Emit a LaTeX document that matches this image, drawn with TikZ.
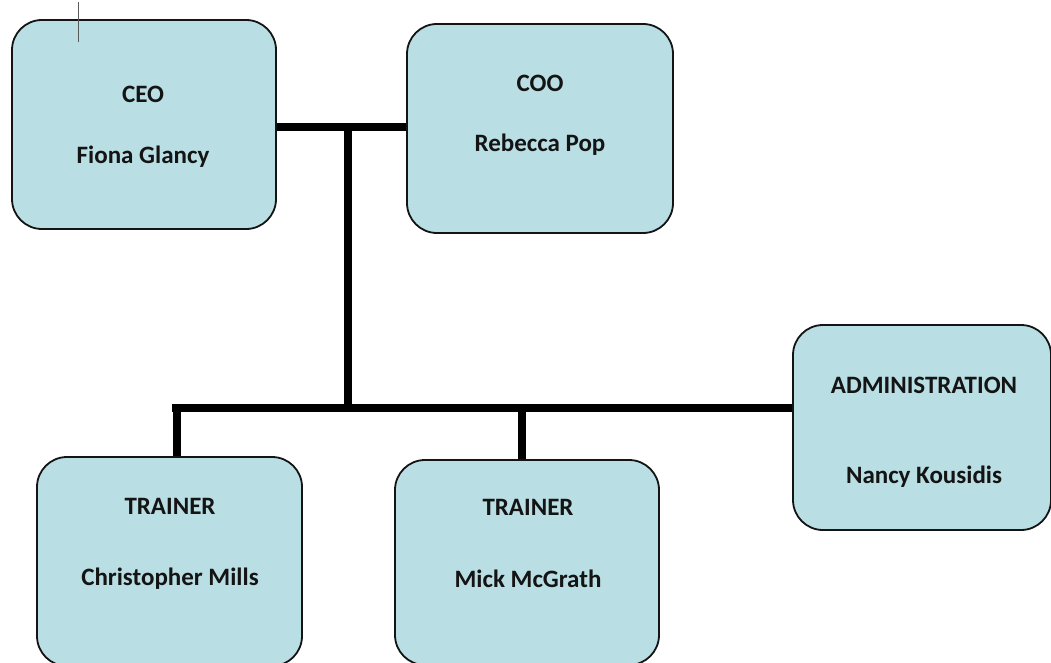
\documentclass[tikz,border=0pt]{standalone}
\usepackage{fontspec}
\setmainfont{Carlito}
\definecolor{boxfill}{RGB}{185,222,227}
\definecolor{boxline}{RGB}{20,20,20}
\definecolor{txt}{RGB}{20,20,20}
\begin{document}
\begin{tikzpicture}[x=1pt,y=-1pt,
  orgbox/.style={draw=boxline,fill=boxfill,line width=1.8pt,rounded corners=30pt,
    rectangle,inner sep=0pt,minimum width=#1},
  orgtext/.style={font=\fontsize{25}{30}\selectfont\bfseries,text=txt,inner sep=0pt,anchor=center},
  bar/.style={line width=7.5pt,black}]
\useasboundingbox (0,0) rectangle (1051,663);
\clip (0,0) rectangle (1051,663);
\fill[white] (0,0) rectangle (1051,663);
% boxes
\node[orgbox=264pt,minimum height=209pt] (ceo) at (144,124.5) {};
\node[orgbox=266pt,minimum height=209pt] (coo) at (540,128.5) {};
\node[orgbox=258pt,minimum height=205pt] (admin) at (922,427.5) {};
\node[orgbox=265pt,minimum height=209pt] (t1) at (169.5,561.5) {};
\node[orgbox=264pt,minimum height=205pt] (t2) at (527,562.5) {};
% texts
\node[orgtext] (ceoA) at (143,94) {CEO};
\node[orgtext] (ceoB) at (143,157) {Fiona Glancy};
\node[orgtext] (cooA) at (540,83) {COO};
\node[orgtext] (cooB) at (540,145) {Rebecca Pop};
\node[orgtext] (admA) at (924,385) {ADMINISTRATION};
\node[orgtext] (admB) at (924,477) {Nancy Kousidis};
\node[orgtext] (t1A) at (170,506) {TRAINER};
\node[orgtext] (t1B) at (170,579) {Christopher Mills};
\node[orgtext] (t2A) at (528,507) {TRAINER};
\node[orgtext] (t2B) at (528,579) {Mick McGrath};
% junctions
\coordinate (j1) at (348,127);
\coordinate (j2) at (348,408);
\coordinate (jl) at (172,408);
\coordinate (d1) at (177,408);
\coordinate (d2) at (522,408);
% connectors
\draw[bar] (ceo.east |- j1) -- (coo.west |- j1);
\draw[bar] (j1) -- (j2);
\draw[bar] (jl) -- (admin.west |- j2);
\draw[bar] (d1) -- (t1.north -| d1);
\draw[bar] (d2) -- (t2.north -| d2);
% cursor mark
\coordinate (cur1) at (78,2);
\coordinate (cur2) at (78,42);
\draw[line width=1pt,gray!70!black] (cur1) -- (cur2);
\end{tikzpicture}
\end{document}
